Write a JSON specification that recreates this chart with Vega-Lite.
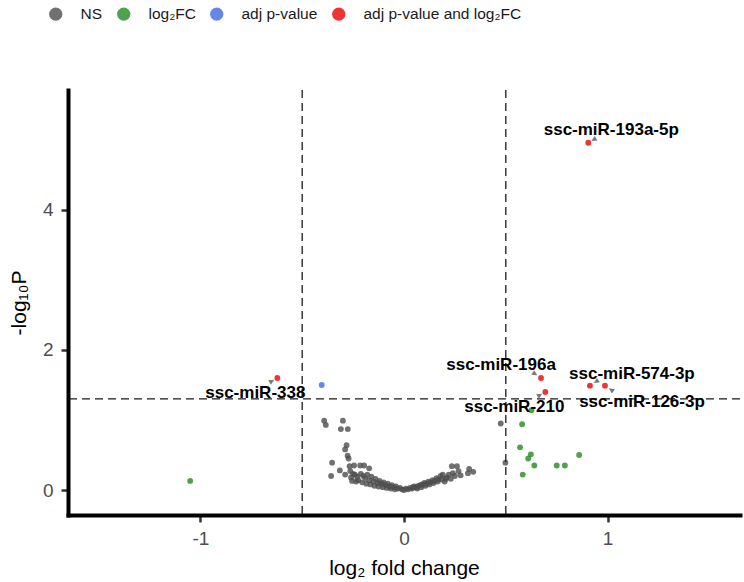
{
  "$schema": "https://vega.github.io/schema/vega-lite/v6.json",
  "width": 672,
  "height": 425,
  "autosize": {"type": "none"},
  "padding": {"left": 68, "top": 90, "right": 4, "bottom": 67},
  "config": {"font": "Liberation Sans", "view": {"stroke": null}},
  "datasets": {
    "mirna": [
      {"gene": "ssc-miR-193a-5p", "log2FC": 0.905, "nlogP": 4.96, "group": "adj p-value and log₂FC"},
      {"gene": "ssc-miR-338", "log2FC": -0.622, "nlogP": 1.6, "group": "adj p-value and log₂FC"},
      {"gene": "ssc-miR-196a", "log2FC": 0.673, "nlogP": 1.6, "group": "adj p-value and log₂FC"},
      {"gene": "ssc-miR-210", "log2FC": 0.694, "nlogP": 1.4, "group": "adj p-value and log₂FC"},
      {"gene": "ssc-miR-574-3p", "log2FC": 0.913, "nlogP": 1.49, "group": "adj p-value and log₂FC"},
      {"gene": "ssc-miR-126-3p", "log2FC": 0.987, "nlogP": 1.49, "group": "adj p-value and log₂FC"},
      {"log2FC": -0.404, "nlogP": 1.5, "group": "adj p-value"},
      {"log2FC": -1.05, "nlogP": 0.13, "group": "log₂FC"},
      {"log2FC": 0.626, "nlogP": 1.14, "group": "log₂FC"},
      {"log2FC": 0.58, "nlogP": 0.94, "group": "log₂FC"},
      {"log2FC": 0.57, "nlogP": 0.61, "group": "log₂FC"},
      {"log2FC": 0.623, "nlogP": 0.51, "group": "log₂FC"},
      {"log2FC": 0.61, "nlogP": 0.45, "group": "log₂FC"},
      {"log2FC": 0.64, "nlogP": 0.35, "group": "log₂FC"},
      {"log2FC": 0.75, "nlogP": 0.35, "group": "log₂FC"},
      {"log2FC": 0.79, "nlogP": 0.35, "group": "log₂FC"},
      {"log2FC": 0.86, "nlogP": 0.5, "group": "log₂FC"},
      {"log2FC": 0.583, "nlogP": 0.22, "group": "log₂FC"},
      {"log2FC": -0.392, "nlogP": 0.99, "group": "NS"},
      {"log2FC": -0.384, "nlogP": 0.93, "group": "NS"},
      {"log2FC": -0.3, "nlogP": 0.99, "group": "NS"},
      {"log2FC": -0.31, "nlogP": 0.87, "group": "NS"},
      {"log2FC": -0.276, "nlogP": 0.87, "group": "NS"},
      {"log2FC": -0.282, "nlogP": 0.64, "group": "NS"},
      {"log2FC": -0.289, "nlogP": 0.58, "group": "NS"},
      {"log2FC": -0.277, "nlogP": 0.49, "group": "NS"},
      {"log2FC": -0.272, "nlogP": 0.45, "group": "NS"},
      {"log2FC": -0.353, "nlogP": 0.39, "group": "NS"},
      {"log2FC": -0.358, "nlogP": 0.2, "group": "NS"},
      {"log2FC": -0.315, "nlogP": 0.28, "group": "NS"},
      {"log2FC": -0.289, "nlogP": 0.22, "group": "NS"},
      {"log2FC": -0.267, "nlogP": 0.34, "group": "NS"},
      {"log2FC": -0.245, "nlogP": 0.35, "group": "NS"},
      {"log2FC": -0.215, "nlogP": 0.35, "group": "NS"},
      {"log2FC": -0.196, "nlogP": 0.35, "group": "NS"},
      {"log2FC": -0.171, "nlogP": 0.31, "group": "NS"},
      {"log2FC": -0.264, "nlogP": 0.27, "group": "NS"},
      {"log2FC": -0.241, "nlogP": 0.22, "group": "NS"},
      {"log2FC": -0.212, "nlogP": 0.23, "group": "NS"},
      {"log2FC": -0.225, "nlogP": 0.14, "group": "NS"},
      {"log2FC": -0.26, "nlogP": 0.18, "group": "NS"},
      {"log2FC": -0.25, "nlogP": 0.23, "group": "NS"},
      {"log2FC": -0.23, "nlogP": 0.19, "group": "NS"},
      {"log2FC": -0.2, "nlogP": 0.2, "group": "NS"},
      {"log2FC": -0.19, "nlogP": 0.17, "group": "NS"},
      {"log2FC": -0.18, "nlogP": 0.22, "group": "NS"},
      {"log2FC": -0.17, "nlogP": 0.14, "group": "NS"},
      {"log2FC": -0.16, "nlogP": 0.19, "group": "NS"},
      {"log2FC": -0.15, "nlogP": 0.12, "group": "NS"},
      {"log2FC": -0.14, "nlogP": 0.16, "group": "NS"},
      {"log2FC": -0.13, "nlogP": 0.1, "group": "NS"},
      {"log2FC": -0.12, "nlogP": 0.13, "group": "NS"},
      {"log2FC": -0.11, "nlogP": 0.09, "group": "NS"},
      {"log2FC": -0.1, "nlogP": 0.11, "group": "NS"},
      {"log2FC": -0.09, "nlogP": 0.07, "group": "NS"},
      {"log2FC": -0.08, "nlogP": 0.09, "group": "NS"},
      {"log2FC": -0.07, "nlogP": 0.05, "group": "NS"},
      {"log2FC": -0.06, "nlogP": 0.07, "group": "NS"},
      {"log2FC": -0.05, "nlogP": 0.04, "group": "NS"},
      {"log2FC": -0.04, "nlogP": 0.05, "group": "NS"},
      {"log2FC": -0.03, "nlogP": 0.02, "group": "NS"},
      {"log2FC": -0.02, "nlogP": 0.03, "group": "NS"},
      {"log2FC": -0.01, "nlogP": 0.01, "group": "NS"},
      {"log2FC": 0.0, "nlogP": 0.0, "group": "NS"},
      {"log2FC": 0.01, "nlogP": 0.02, "group": "NS"},
      {"log2FC": 0.02, "nlogP": 0.01, "group": "NS"},
      {"log2FC": 0.03, "nlogP": 0.03, "group": "NS"},
      {"log2FC": 0.04, "nlogP": 0.02, "group": "NS"},
      {"log2FC": 0.05, "nlogP": 0.05, "group": "NS"},
      {"log2FC": 0.06, "nlogP": 0.04, "group": "NS"},
      {"log2FC": 0.07, "nlogP": 0.06, "group": "NS"},
      {"log2FC": 0.08, "nlogP": 0.07, "group": "NS"},
      {"log2FC": 0.09, "nlogP": 0.08, "group": "NS"},
      {"log2FC": 0.1, "nlogP": 0.1, "group": "NS"},
      {"log2FC": 0.11, "nlogP": 0.09, "group": "NS"},
      {"log2FC": 0.12, "nlogP": 0.12, "group": "NS"},
      {"log2FC": 0.13, "nlogP": 0.11, "group": "NS"},
      {"log2FC": 0.14, "nlogP": 0.14, "group": "NS"},
      {"log2FC": 0.15, "nlogP": 0.13, "group": "NS"},
      {"log2FC": 0.16, "nlogP": 0.17, "group": "NS"},
      {"log2FC": 0.17, "nlogP": 0.15, "group": "NS"},
      {"log2FC": 0.18, "nlogP": 0.2, "group": "NS"},
      {"log2FC": 0.19, "nlogP": 0.22, "group": "NS"},
      {"log2FC": 0.2, "nlogP": 0.12, "group": "NS"},
      {"log2FC": 0.21, "nlogP": 0.18, "group": "NS"},
      {"log2FC": 0.22, "nlogP": 0.22, "group": "NS"},
      {"log2FC": 0.23, "nlogP": 0.16, "group": "NS"},
      {"log2FC": 0.25, "nlogP": 0.2, "group": "NS"},
      {"log2FC": 0.235, "nlogP": 0.34, "group": "NS"},
      {"log2FC": 0.26, "nlogP": 0.34, "group": "NS"},
      {"log2FC": 0.268, "nlogP": 0.27, "group": "NS"},
      {"log2FC": 0.278, "nlogP": 0.21, "group": "NS"},
      {"log2FC": 0.314, "nlogP": 0.24, "group": "NS"},
      {"log2FC": 0.32, "nlogP": 0.3, "group": "NS"},
      {"log2FC": 0.34, "nlogP": 0.26, "group": "NS"},
      {"log2FC": -0.255, "nlogP": 0.13, "group": "NS"},
      {"log2FC": -0.235, "nlogP": 0.12, "group": "NS"},
      {"log2FC": -0.205, "nlogP": 0.11, "group": "NS"},
      {"log2FC": -0.185, "nlogP": 0.09, "group": "NS"},
      {"log2FC": -0.165, "nlogP": 0.08, "group": "NS"},
      {"log2FC": -0.145, "nlogP": 0.06, "group": "NS"},
      {"log2FC": -0.125, "nlogP": 0.05, "group": "NS"},
      {"log2FC": -0.105, "nlogP": 0.04, "group": "NS"},
      {"log2FC": -0.085, "nlogP": 0.03, "group": "NS"},
      {"log2FC": -0.065, "nlogP": 0.02, "group": "NS"},
      {"log2FC": -0.045, "nlogP": 0.01, "group": "NS"},
      {"log2FC": 0.045, "nlogP": 0.04, "group": "NS"},
      {"log2FC": 0.065, "nlogP": 0.02, "group": "NS"},
      {"log2FC": 0.085, "nlogP": 0.04, "group": "NS"},
      {"log2FC": 0.105, "nlogP": 0.06, "group": "NS"},
      {"log2FC": 0.125, "nlogP": 0.08, "group": "NS"},
      {"log2FC": 0.145, "nlogP": 0.1, "group": "NS"},
      {"log2FC": 0.165, "nlogP": 0.12, "group": "NS"},
      {"log2FC": 0.185, "nlogP": 0.15, "group": "NS"},
      {"log2FC": 0.205, "nlogP": 0.16, "group": "NS"},
      {"log2FC": 0.24, "nlogP": 0.24, "group": "NS"},
      {"log2FC": 0.475, "nlogP": 0.95, "group": "NS"},
      {"log2FC": 0.498, "nlogP": 0.39, "group": "NS"}
    ],
    "fcCutoffs": [{"log2FC": -0.5}, {"log2FC": 0.5}],
    "pCutoff": [{"nlogP": 1.30103}]
  },
  "layer": [
    {
      "data": {"name": "mirna"},
      "mark": {"type": "circle", "size": 34, "opacity": 0.8},
      "encoding": {
        "x": {
          "field": "log2FC", "type": "quantitative", "title": "log₂ fold change",
          "scale": {"domain": [-1.65, 1.65], "nice": false, "zero": false},
          "axis": {
            "values": [-1, 0, 1], "labelExpr": "datum.value < 0 ? '-' + abs(datum.value) : '' + datum.value", "grid": false,
            "domainColor": "black", "domainWidth": 4, "domainCap": "square",
            "tickColor": "#333333", "tickWidth": 2.5, "tickSize": 7,
            "labelFontSize": 19, "labelColor": "#4d4d4d", "labelPadding": 7,
            "titleFontSize": 21, "titleColor": "black", "titleFontWeight": "normal", "titlePadding": 9
          }
        },
        "y": {
          "field": "nlogP", "type": "quantitative", "title": "-log₁₀P",
          "scale": {"domain": [-0.357, 5.714], "nice": false, "zero": false},
          "axis": {
            "values": [0, 2, 4], "labelExpr": "'' + datum.value", "grid": false,
            "domainColor": "black", "domainWidth": 4, "domainCap": "square",
            "tickColor": "#333333", "tickWidth": 2.5, "tickSize": 7,
            "labelFontSize": 19, "labelColor": "#4d4d4d", "labelPadding": 8,
            "titleFontSize": 21, "titleColor": "black", "titleFontWeight": "normal", "titlePadding": 13
          }
        },
        "color": {
          "field": "group", "type": "nominal",
          "scale": {
            "domain": ["NS", "log₂FC", "adj p-value", "adj p-value and log₂FC"],
            "range": ["#4d4d4d", "#228b22", "#4169e1", "#ee0000"]
          },
          "legend": {
            "orient": "none", "legendX": -20, "legendY": -84, "direction": "horizontal", "columns": 4,
            "title": null, "symbolType": "circle", "symbolSize": 175, "symbolOpacity": 0.8,
            "symbolStrokeWidth": 0, "labelFontSize": 15.5, "labelColor": "#1a1a1a", "labelLimit": 400,
            "labelOffset": 17, "columnPadding": 13
          }
        }
      }
    },
    {
      "data": {"name": "fcCutoffs"},
      "mark": {"type": "rule", "color": "#1a1a1a", "strokeWidth": 1.3, "strokeDash": [8, 5]},
      "encoding": {"x": {"field": "log2FC", "type": "quantitative", "title": "log₂ fold change"}}
    },
    {
      "data": {"name": "pCutoff"},
      "mark": {"type": "rule", "color": "#1a1a1a", "strokeWidth": 1.3, "strokeDash": [8, 5]},
      "encoding": {"y": {"field": "nlogP", "type": "quantitative", "title": "-log₁₀P"}}
    },
    {
      "data": {"name": "mirna"},
      "transform": [{"filter": "datum.gene == 'ssc-miR-193a-5p'"}],
      "mark": {"type": "text", "text": "▲", "fontSize": 9, "color": "#7a7a7a", "angle": 239, "dx": 0, "dy": 6, "align": "center", "baseline": "middle"},
      "encoding": {"x": {"field": "log2FC", "type": "quantitative", "title": "log₂ fold change"}, "y": {"field": "nlogP", "type": "quantitative", "title": "-log₁₀P"}}
    },
    {
      "data": {"name": "mirna"},
      "transform": [{"filter": "datum.gene == 'ssc-miR-338'"}],
      "mark": {"type": "text", "text": "▲", "fontSize": 9, "color": "#7a7a7a", "angle": 59, "dx": 0, "dy": 6, "align": "center", "baseline": "middle"},
      "encoding": {"x": {"field": "log2FC", "type": "quantitative", "title": "log₂ fold change"}, "y": {"field": "nlogP", "type": "quantitative", "title": "-log₁₀P"}}
    },
    {
      "data": {"name": "mirna"},
      "transform": [{"filter": "datum.gene == 'ssc-miR-196a'"}],
      "mark": {"type": "text", "text": "▲", "fontSize": 9, "color": "#7a7a7a", "angle": 124, "dx": 0, "dy": 7, "align": "center", "baseline": "middle"},
      "encoding": {"x": {"field": "log2FC", "type": "quantitative", "title": "log₂ fold change"}, "y": {"field": "nlogP", "type": "quantitative", "title": "-log₁₀P"}}
    },
    {
      "data": {"name": "mirna"},
      "transform": [{"filter": "datum.gene == 'ssc-miR-210'"}],
      "mark": {"type": "text", "text": "▲", "fontSize": 9, "color": "#7a7a7a", "angle": 59, "dx": 0, "dy": 6, "align": "center", "baseline": "middle"},
      "encoding": {"x": {"field": "log2FC", "type": "quantitative", "title": "log₂ fold change"}, "y": {"field": "nlogP", "type": "quantitative", "title": "-log₁₀P"}}
    },
    {
      "data": {"name": "mirna"},
      "transform": [{"filter": "datum.gene == 'ssc-miR-574-3p'"}],
      "mark": {"type": "text", "text": "▲", "fontSize": 9, "color": "#7a7a7a", "angle": 236, "dx": 0, "dy": 7, "align": "center", "baseline": "middle"},
      "encoding": {"x": {"field": "log2FC", "type": "quantitative", "title": "log₂ fold change"}, "y": {"field": "nlogP", "type": "quantitative", "title": "-log₁₀P"}}
    },
    {
      "data": {"name": "mirna"},
      "transform": [{"filter": "datum.gene == 'ssc-miR-126-3p'"}],
      "mark": {"type": "text", "text": "▲", "fontSize": 9, "color": "#7a7a7a", "angle": 304, "dx": 0, "dy": 7, "align": "center", "baseline": "middle"},
      "encoding": {"x": {"field": "log2FC", "type": "quantitative", "title": "log₂ fold change"}, "y": {"field": "nlogP", "type": "quantitative", "title": "-log₁₀P"}}
    },
    {
      "data": {"name": "mirna"},
      "transform": [{"filter": "datum.gene == 'ssc-miR-193a-5p'"}],
      "mark": {"type": "text", "fontSize": 17, "fontWeight": "bold", "color": "black", "dx": 23, "dy": -13, "align": "center", "baseline": "middle"},
      "encoding": {"x": {"field": "log2FC", "type": "quantitative", "title": "log₂ fold change"}, "y": {"field": "nlogP", "type": "quantitative", "title": "-log₁₀P"}, "text": {"field": "gene"}}
    },
    {
      "data": {"name": "mirna"},
      "transform": [{"filter": "datum.gene == 'ssc-miR-338'"}],
      "mark": {"type": "text", "fontSize": 17, "fontWeight": "bold", "color": "black", "dx": -22, "dy": 15, "align": "center", "baseline": "middle"},
      "encoding": {"x": {"field": "log2FC", "type": "quantitative", "title": "log₂ fold change"}, "y": {"field": "nlogP", "type": "quantitative", "title": "-log₁₀P"}, "text": {"field": "gene"}}
    },
    {
      "data": {"name": "mirna"},
      "transform": [{"filter": "datum.gene == 'ssc-miR-196a'"}],
      "mark": {"type": "text", "fontSize": 17, "fontWeight": "bold", "color": "black", "dx": -40, "dy": -13, "align": "center", "baseline": "middle"},
      "encoding": {"x": {"field": "log2FC", "type": "quantitative", "title": "log₂ fold change"}, "y": {"field": "nlogP", "type": "quantitative", "title": "-log₁₀P"}, "text": {"field": "gene"}}
    },
    {
      "data": {"name": "mirna"},
      "transform": [{"filter": "datum.gene == 'ssc-miR-210'"}],
      "mark": {"type": "text", "fontSize": 17, "fontWeight": "bold", "color": "black", "dx": -31, "dy": 15, "align": "center", "baseline": "middle"},
      "encoding": {"x": {"field": "log2FC", "type": "quantitative", "title": "log₂ fold change"}, "y": {"field": "nlogP", "type": "quantitative", "title": "-log₁₀P"}, "text": {"field": "gene"}}
    },
    {
      "data": {"name": "mirna"},
      "transform": [{"filter": "datum.gene == 'ssc-miR-574-3p'"}],
      "mark": {"type": "text", "fontSize": 17, "fontWeight": "bold", "color": "black", "dx": 42, "dy": -12, "align": "center", "baseline": "middle"},
      "encoding": {"x": {"field": "log2FC", "type": "quantitative", "title": "log₂ fold change"}, "y": {"field": "nlogP", "type": "quantitative", "title": "-log₁₀P"}, "text": {"field": "gene"}}
    },
    {
      "data": {"name": "mirna"},
      "transform": [{"filter": "datum.gene == 'ssc-miR-126-3p'"}],
      "mark": {"type": "text", "fontSize": 17, "fontWeight": "bold", "color": "black", "dx": 37, "dy": 16, "align": "center", "baseline": "middle"},
      "encoding": {"x": {"field": "log2FC", "type": "quantitative", "title": "log₂ fold change"}, "y": {"field": "nlogP", "type": "quantitative", "title": "-log₁₀P"}, "text": {"field": "gene"}}
    }
  ]
}
